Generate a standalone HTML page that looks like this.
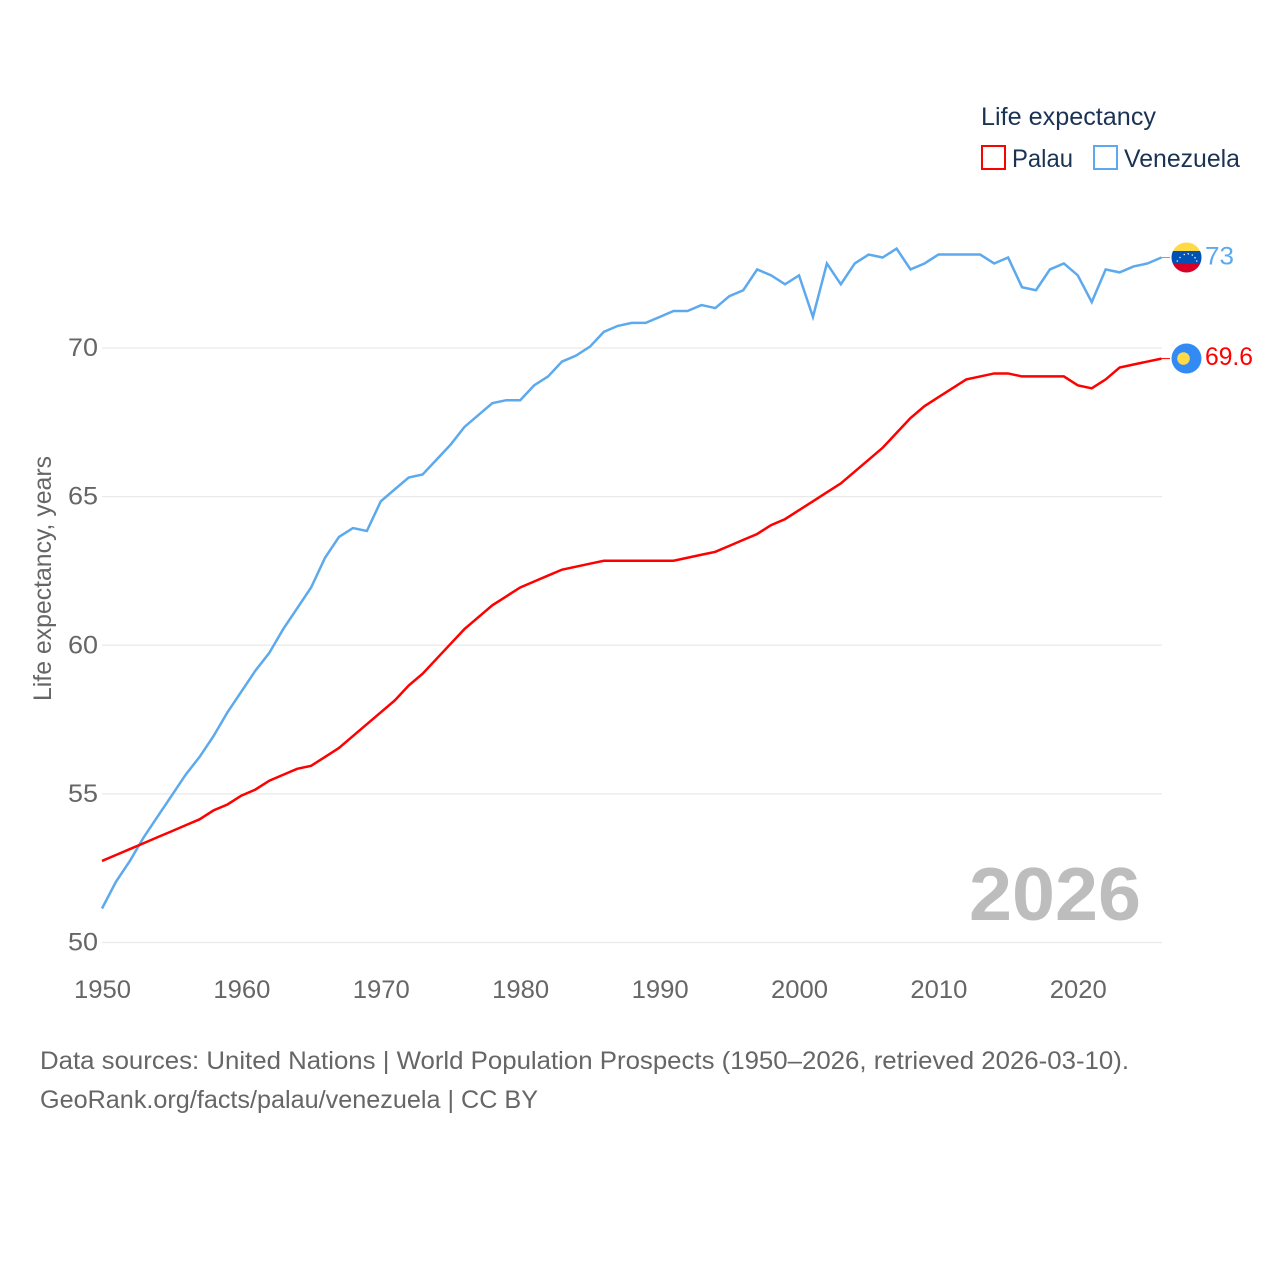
<!DOCTYPE html>
<html lang="en">
<head>
<meta charset="utf-8">
<title>Life expectancy: Palau and Venezuela</title>
<style>
html,body{margin:0;padding:0;background:#fff;width:1280px;height:1280px;overflow:hidden}
svg{display:block}
text{font-family:"Liberation Sans",sans-serif}
.tick{font-size:25px;fill:#666}
.lg{font-size:25px;fill:#1a3354}
.src{font-size:25px;fill:#666}
</style>
</head>
<body>
<svg id="chart" xmlns="http://www.w3.org/2000/svg" width="1280" height="1280" viewBox="0 0 1280 1280">
  <rect x="0" y="0" width="1280" height="1280" fill="#fff"/>
  <g id="grid"></g>
  <g id="yticks"></g>
  <g id="xticks"></g>
  <text class="tick" transform="translate(51 701) rotate(-90)" textLength="245" lengthAdjust="spacingAndGlyphs">Life expectancy, years</text>
  <text x="969" y="920" font-size="75" font-weight="700" fill="#bdbdbd" textLength="172" lengthAdjust="spacingAndGlyphs">2026</text>
  <g id="series"></g>

  <g>
    <text class="lg" x="981" y="125" textLength="175" lengthAdjust="spacingAndGlyphs">Life expectancy</text>
    <g>
      <rect x="982" y="146" width="23" height="23" fill="#fff" stroke="#ff0000" stroke-width="2"/>
      <text class="lg" x="1012" y="167" textLength="61" lengthAdjust="spacingAndGlyphs">Palau</text>
    </g>
    <g>
      <rect x="1094" y="146" width="23" height="23" fill="#fff" stroke="#5da9ee" stroke-width="2"/>
      <text class="lg" x="1124" y="167" textLength="116" lengthAdjust="spacingAndGlyphs">Venezuela</text>
    </g>
  </g>

  <g>
    <clipPath id="veClip"><circle cx="1186.500" cy="257.500" r="15"/></clipPath>
    <g clip-path="url(#veClip)">
      <rect x="1170" y="241" width="33" height="10.500" fill="#ffda44"/>
      <rect x="1170" y="251" width="33" height="13" fill="#0052b4"/>
      <rect x="1170" y="264" width="33" height="11" fill="#d80027"/>
      <g fill="#f0f0f0">
        <circle cx="1177.300" cy="261" r=".8"/><circle cx="1180" cy="257.500" r=".8"/><circle cx="1184.300" cy="254.500" r=".8"/><circle cx="1188.300" cy="253.800" r=".8"/><circle cx="1192.300" cy="255" r=".8"/><circle cx="1195" cy="257.700" r=".8"/><circle cx="1196.700" cy="261" r=".8"/>
      </g>
    </g>
  </g>
  <g>
    <circle cx="1186.500" cy="358.500" r="15" fill="#338af3"/>
    <circle cx="1183.500" cy="358.500" r="6.300" fill="#ffda44"/>
  </g>

  <g id="endLabels"></g>

  <text class="src" x="40" y="1069" textLength="1089" lengthAdjust="spacingAndGlyphs">Data sources: United Nations | World Population Prospects (1950–2026, retrieved 2026-03-10).</text>
  <text class="src" x="40" y="1108" textLength="498" lengthAdjust="spacingAndGlyphs">GeoRank.org/facts/palau/venezuela | CC BY</text>
</svg>
<script>
const startYear = 1950;
const xTickYears = [1950, 1960, 1970, 1980, 1990, 2000, 2010, 2020];
const yTickValues = [50, 55, 60, 65, 70];
const palau = [52.7,52.9,53.1,53.3,53.5,53.7,53.9,54.1,54.4,54.6,54.9,55.1,55.4,55.6,55.8,55.9,56.2,56.5,56.9,57.3,57.7,58.1,58.6,59.0,59.5,60.0,60.5,60.9,61.3,61.6,61.9,62.1,62.3,62.5,62.6,62.7,62.8,62.8,62.8,62.8,62.8,62.8,62.9,63.0,63.1,63.3,63.5,63.7,64.0,64.2,64.5,64.8,65.1,65.4,65.8,66.2,66.6,67.1,67.6,68.0,68.3,68.6,68.9,69.0,69.1,69.1,69.0,69.0,69.0,69.0,68.7,68.6,68.9,69.3,69.4,69.5,69.6];
const venezuela = [51.1,52.0,52.7,53.5,54.2,54.9,55.6,56.2,56.9,57.7,58.4,59.1,59.7,60.5,61.2,61.9,62.9,63.6,63.9,63.8,64.8,65.2,65.6,65.7,66.2,66.7,67.3,67.7,68.1,68.2,68.2,68.7,69.0,69.5,69.7,70.0,70.5,70.7,70.8,70.8,71.0,71.2,71.2,71.4,71.3,71.7,71.9,72.6,72.4,72.1,72.4,71.0,72.8,72.1,72.8,73.1,73.0,73.3,72.6,72.8,73.1,73.1,73.1,73.1,72.8,73.0,72.0,71.9,72.6,72.8,72.4,71.5,72.6,72.5,72.7,72.8,73.0];

const NS = 'http://www.w3.org/2000/svg';
const xScale = function (year) { return 102 + (year - 1950) * 13.94; };
const yScale = function (v) { return 942.5 - (v - 50) * 29.725; };
const seriesY = function (v) { return yScale(v) - 1.3; };

function make(parent, tag, attrs, txt) {
  const el = document.createElementNS(NS, tag);
  for (const k in attrs) el.setAttribute(k, attrs[k]);
  if (txt !== undefined) el.textContent = txt;
  parent.appendChild(el);
  return el;
}

const grid = document.getElementById('grid');
const yt = document.getElementById('yticks');
const xt = document.getElementById('xticks');
const series = document.getElementById('series');
const endLabels = document.getElementById('endLabels');

yTickValues.forEach(function (v) {
  const line = make(grid, 'line', {x1: 102, x2: 1162, y1: yScale(v), y2: yScale(v), stroke: '#e9e9e9', 'stroke-width': 1.300});
  
  
  const t = make(yt, 'text', {x: 98, y: yScale(v) + 8, 'text-anchor': 'end', 'class': 'tick', textLength: 30, lengthAdjust: 'spacingAndGlyphs'}, String(v));
  
  
});

xTickYears.forEach(function (y) {
  const t = make(xt, 'text', {x: xScale(y) + 0.5, y: 998, 'text-anchor': 'middle', 'class': 'tick', textLength: 57, lengthAdjust: 'spacingAndGlyphs'}, String(y));
  
  
});

function toPoints(values) {
  return values.map(function (v, i) {
    return xScale(startYear + i).toFixed(2) + ',' + seriesY(v).toFixed(2);
  }).join(' ');
}

const veLine = make(series, 'polyline', {points: toPoints(venezuela), fill: 'none', stroke: '#5da9ee', 'stroke-width': 2.500, 'stroke-linejoin': 'miter'});



const paLine = make(series, 'polyline', {points: toPoints(palau), fill: 'none', stroke: '#ff0000', 'stroke-width': 2.500, 'stroke-linejoin': 'miter'});



const lastYear = startYear + palau.length - 1;
const veEnd = venezuela[venezuela.length - 1];
const paEnd = palau[palau.length - 1];

const veConn = make(series, 'line', {x1: xScale(lastYear), x2: 1170, y1: seriesY(veEnd), y2: seriesY(veEnd), stroke: '#5da9ee', 'stroke-width': 1});



const paConn = make(series, 'line', {x1: xScale(lastYear), x2: 1170, y1: seriesY(paEnd), y2: seriesY(paEnd), stroke: '#ff0000', 'stroke-width': 1});



const veLabel = make(endLabels, 'text', {x: 1205, y: seriesY(veEnd) + 7, 'font-size': 25, fill: '#5da9ee', textLength: 29, lengthAdjust: 'spacingAndGlyphs'}, String(veEnd));



const paLabel = make(endLabels, 'text', {x: 1205, y: seriesY(paEnd) + 6.500, 'font-size': 25, fill: '#ff0000', textLength: 48, lengthAdjust: 'spacingAndGlyphs'}, String(paEnd));


</script>
</body>
</html>
